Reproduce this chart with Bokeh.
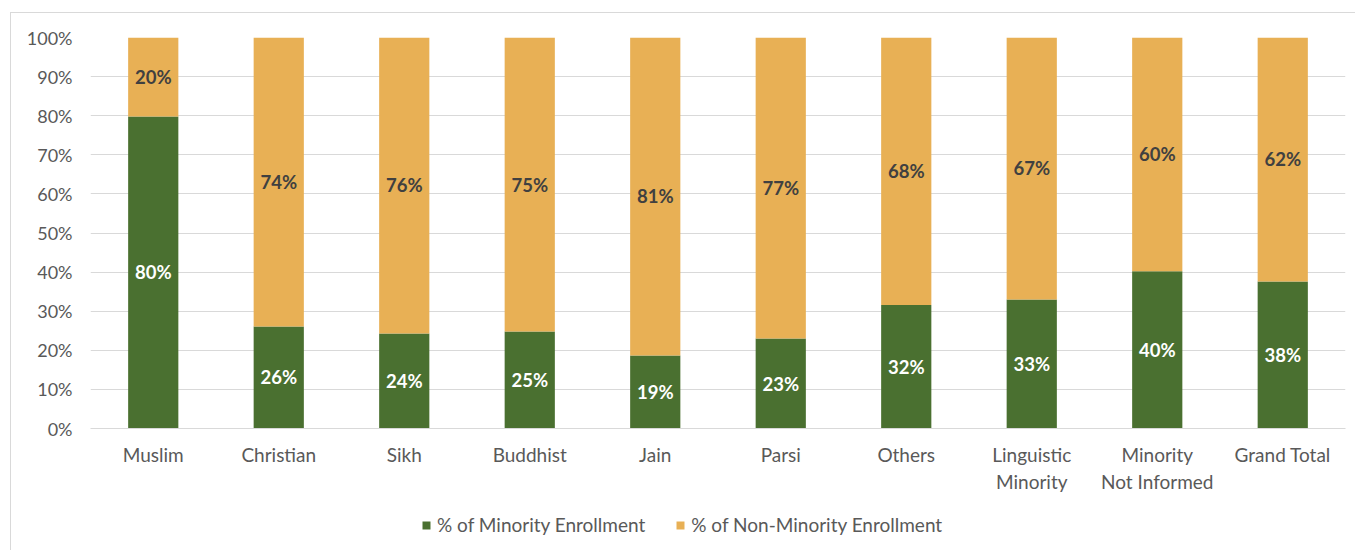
from bokeh.plotting import figure
from bokeh.models import ColumnDataSource, FixedTicker, Legend, LegendItem, FactorRange
from bokeh.layouts import column
from bokeh.core.properties import value
from bokeh.embed import file_html
from bokeh.resources import INLINE

categories = ["Muslim", "Christian", "Sikh", "Buddhist", "Jain", "Parsi", "Others",
              "Linguistic\nMinority", "Minority\nNot Informed", "Grand Total"]
minority = [79.8, 26.1, 24.3, 24.8, 18.7, 23.0, 31.6, 33.0, 40.2, 37.6]
non_minority = [20.2, 73.9, 75.7, 75.2, 81.3, 77.0, 68.4, 67.0, 59.8, 62.4]
y_ticks = [0, 10, 20, 30, 40, 50, 60, 70, 80, 90, 100]
series_names = ["% of Minority Enrollment", "% of Non-Minority Enrollment"]

GREEN = "#4a7030"
ORANGE = "#e8b055"
FONT = "Lato"

src = ColumnDataSource(dict(
    cat=categories,
    minority=minority,
    non_minority=non_minority,
    min_mid=[m / 2 for m in minority],
    non_mid=[m + n / 2 for m, n in zip(minority, non_minority)],
    min_lbl=[f"{m:.0f}%" for m in minority],
    non_lbl=[f"{n:.0f}%" for n in non_minority],
))

LEFT, RIGHT = 79, 10
p = figure(x_range=FactorRange(*categories, range_padding=0), y_range=(0, 100),
           width=1344, height=487,
           output_backend="svg", toolbar_location=None,
           min_border_left=LEFT, min_border_top=24, min_border_right=RIGHT, min_border_bottom=72)
p.outline_line_color = None
p.background_fill_color = "white"

rs = p.vbar_stack(["minority", "non_minority"], x="cat", width=0.4, source=src,
                  color=[GREEN, ORANGE], line_color=None)

p.text(x="cat", y="min_mid", text="min_lbl", source=src, text_align="center",
       text_baseline="middle", text_color="white", text_font=value(FONT),
       text_font_style="bold", text_font_size="18.5px")
p.text(x="cat", y="non_mid", text="non_lbl", source=src, text_align="center",
       text_baseline="middle", text_color="#404040", text_font=value(FONT),
       text_font_style="bold", text_font_size="18.5px")

p.yaxis.ticker = FixedTicker(ticks=y_ticks)
p.yaxis.major_label_overrides = {t: f"{t}%" for t in y_ticks}
p.yaxis.axis_line_color = None
p.yaxis.major_tick_line_color = None
p.yaxis.minor_tick_line_color = None
p.yaxis.major_label_text_font = FONT
p.yaxis.major_label_text_font_size = "18px"
p.yaxis.major_label_text_color = "#595959"
p.yaxis.major_label_standoff = 12

p.xaxis.axis_line_color = "#d9d9d9"
p.xaxis.major_tick_line_color = None
p.xaxis.minor_tick_line_color = None
p.xaxis.major_label_text_font = FONT
p.xaxis.major_label_text_font_size = "19px"
p.xaxis.major_label_text_color = "#595959"
p.xaxis.major_label_standoff = 8

p.xgrid.grid_line_color = None
p.ygrid.grid_line_color = "#d9d9d9"
p.ygrid.grid_line_width = 1

# legend strip below the chart
p2 = figure(width=1344, height=50, x_range=(0, 1), y_range=(0, 1),
            output_backend="svg", toolbar_location=None,
            min_border_left=LEFT, min_border_right=RIGHT, min_border_top=0, min_border_bottom=0)
p2.axis.visible = False
p2.grid.visible = False
p2.outline_line_color = None
r1 = p2.vbar(x=[0.5], top=[0], width=0.0, color=GREEN, line_color=None)
r2 = p2.vbar(x=[0.5], top=[0], width=0.0, color=ORANGE, line_color=None)
legend = Legend(items=[LegendItem(label=series_names[0], renderers=[r1]),
                       LegendItem(label=series_names[1], renderers=[r2])],
                orientation="horizontal", location=(421 - 90, 14),
                glyph_width=10, glyph_height=10, spacing=30, label_standoff=6,
                label_text_font=FONT, label_text_font_size="19px",
                label_text_color="#595959", border_line_color=None,
                background_fill_alpha=0, margin=0, padding=0)
p2.add_layout(legend, "center")

layout = column(p, p2, spacing=0, margin=(12, 0, 0, 10),
                styles={"border-left": "1px solid #d9d9d9", "border-top": "1px solid #d9d9d9"})
open("out.html", "w").write(file_html(layout, INLINE))
